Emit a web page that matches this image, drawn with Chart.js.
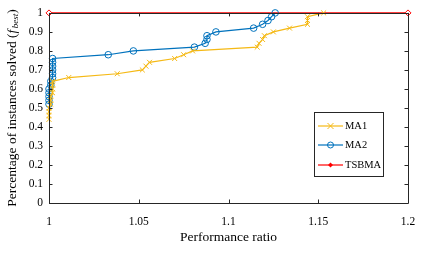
<!DOCTYPE html>
<html><head><meta charset="utf-8">
<script src="https://cdn.jsdelivr.net/npm/chart.js@4"></script>
<style>html,body{margin:0;padding:0;background:#fff}#wrap{width:429px;height:265px}</style>
</head><body><div id="wrap"><canvas id="c" width="429" height="265"></canvas></div>
<script>
const ma1Ratio = [1,1,1,1,1.001,1.001,1.001,1.002,1.002,1.002,1.002,1.011,1.038,1.052,1.054,1.056,1.070,1.075,1.080,1.116,1.117,1.119,1.120,1.125,1.134,1.144,1.144,1.144,1.153];
const ma1Solved = [0.44,0.46,0.48,0.50,0.52,0.54,0.56,0.58,0.60,0.62,0.64,0.66,0.68,0.70,0.72,0.74,0.76,0.78,0.80,0.82,0.84,0.86,0.88,0.90,0.92,0.94,0.96,0.98,1.0];
const ma2Ratio = [1,1,1,1,1,1.001,1.001,1.002,1.002,1.002,1.002,1.002,1.002,1.033,1.047,1.081,1.087,1.088,1.088,1.093,1.114,1.119,1.122,1.124,1.126];
const ma2Solved = [0.52,0.54,0.56,0.58,0.60,0.62,0.64,0.66,0.68,0.70,0.72,0.74,0.76,0.78,0.80,0.82,0.84,0.86,0.88,0.90,0.92,0.94,0.96,0.98,1.0];
const tsbmaRatio = [1,1.2];
const tsbmaSolved = [1,1];
const xTicks = [1,1.05,1.1,1.15,1.2];
const yTicks = [0,0.1,0.2,0.3,0.4,0.5,0.6,0.7,0.8,0.9,1];
const seriesNames = ['MA1','MA2','TSBMA'];

const C1 = '#F5B915', C2 = '#0072BD', C3 = '#FF0000', AX = '#262626';
const FONT = 'Liberation Serif';
Chart.defaults.font.family = FONT;
Chart.defaults.font.size = 11.5;
Chart.defaults.color = '#000';

const pts = (xs, ys) => xs.map((x,i)=>({x:x,y:ys[i]}));

const deco = {
  id:'deco',
  afterDraw(chart){
    const ctx = chart.ctx, a = chart.chartArea, xs = chart.scales.x, ys = chart.scales.y;
    ctx.save();
    ctx.strokeStyle = AX; ctx.lineWidth = 1;
    ctx.beginPath();
    ctx.rect(Math.round(a.left)+0.5, Math.round(a.top)+0.5, Math.round(a.right-a.left), Math.round(a.bottom-a.top));
    ctx.stroke();
    ctx.beginPath();
    xTicks.forEach(v=>{const p=Math.round(xs.getPixelForValue(v))+0.5;
      ctx.moveTo(p,a.bottom); ctx.lineTo(p,a.bottom-3.5);
      ctx.moveTo(p,a.top); ctx.lineTo(p,a.top+3.5);});
    yTicks.forEach(v=>{const p=Math.round(ys.getPixelForValue(v))+0.5;
      ctx.moveTo(a.left,p); ctx.lineTo(a.left+3.5,p);
      ctx.moveTo(a.right,p); ctx.lineTo(a.right-3.5,p);});
    ctx.stroke();
    ctx.fillStyle='#000';
    ctx.font = '13.5px '+FONT; ctx.textAlign='center'; ctx.textBaseline='middle';
    ctx.fillText('Performance ratio', (a.left+a.right)/2, 237);
    ctx.save();
    ctx.translate(12, (a.top+a.bottom)/2);
    ctx.rotate(-Math.PI/2);
    const p1='Percentage of instances solved (', p2='f', p3='best', p4=')';
    ctx.font='13.5px '+FONT; const w1=ctx.measureText(p1).width, w4=ctx.measureText(p4).width;
    ctx.font='italic 13.5px '+FONT; const w2=ctx.measureText(p2).width+1.5;
    ctx.font='italic 9px '+FONT; const w3=ctx.measureText(p3).width;
    let x0=-(w1+w2+w3+w4)/2;
    ctx.textAlign='left'; ctx.textBaseline='middle';
    ctx.font='13.5px '+FONT; ctx.fillText(p1,x0,0); x0+=w1;
    ctx.font='italic 13.5px '+FONT; ctx.fillText(p2,x0,0); x0+=w2;
    ctx.font='italic 9px '+FONT; ctx.fillText(p3,x0,3.5); x0+=w3;
    ctx.font='13.5px '+FONT; ctx.fillText(p4,x0,0);
    ctx.restore();
    const L=314.5,T=112.5,R=383.5,B=176.5;
    ctx.fillStyle='#fff'; ctx.fillRect(L,T,R-L,B-T);
    ctx.strokeStyle=AX; ctx.lineWidth=1; ctx.strokeRect(L,T,R-L,B-T);
    const rows=[126,145,165], cols=[C1,C2,C3];
    rows.forEach((yy,i)=>{
      ctx.strokeStyle=cols[i]; ctx.lineWidth=1.2;
      ctx.beginPath(); ctx.moveTo(318,yy); ctx.lineTo(343,yy); ctx.stroke();
      ctx.lineWidth=1;
      const cx=330.5;
      if(i===0){ctx.beginPath();ctx.moveTo(cx-3,yy-3);ctx.lineTo(cx+3,yy+3);ctx.moveTo(cx-3,yy+3);ctx.lineTo(cx+3,yy-3);ctx.stroke();}
      else if(i===1){ctx.beginPath();ctx.arc(cx,yy,3,0,Math.PI*2);ctx.stroke();}
      else {ctx.fillStyle=C3;ctx.beginPath();ctx.moveTo(cx,yy-2.5);ctx.lineTo(cx+2.5,yy);ctx.lineTo(cx,yy+2.5);ctx.lineTo(cx-2.5,yy);ctx.closePath();ctx.fill();}
      ctx.fillStyle='#000'; ctx.font='10.5px '+FONT; ctx.textAlign='left'; ctx.textBaseline='middle';
      ctx.fillText(seriesNames[i],345,yy+0.5);
    });
    ctx.restore();
  }
};

new Chart(document.getElementById('c'), {
  type:'scatter',
  data:{datasets:[
    {label:seriesNames[0], data:pts(ma1Ratio,ma1Solved), showLine:true, borderColor:C1, backgroundColor:C1, borderWidth:1.2,
     pointStyle:'crossRot', pointRadius:3.5, pointBorderWidth:1, pointBorderColor:C1, clip:false},
    {label:seriesNames[1], data:pts(ma2Ratio,ma2Solved), showLine:true, borderColor:C2, backgroundColor:'rgba(0,0,0,0)', borderWidth:1.2,
     pointStyle:'circle', pointRadius:3.3, pointBorderWidth:1, pointBorderColor:C2, clip:false},
    {label:seriesNames[2], data:pts(tsbmaRatio,tsbmaSolved), showLine:true, borderColor:C3, backgroundColor:'#fff', borderWidth:1.2,
     pointStyle:'rectRot', pointRadius:3, pointBorderWidth:1, pointBorderColor:C3, clip:false}
  ]},
  options:{
    responsive:false, animation:false, devicePixelRatio:1,
    layout:{padding:{top:10,right:21,left:0,bottom:0}},
    plugins:{legend:{display:false}, tooltip:{enabled:false}},
    scales:{
      x:{type:'linear', min:1, max:1.2,
         afterBuildTicks:s=>{s.ticks=xTicks.map(v=>({value:v}));},
         afterFit:s=>{s.height=62;},
         ticks:{padding:12, maxRotation:0, autoSkip:false, callback:v=>String(v)},
         grid:{display:false, drawTicks:false}, border:{display:false}},
      y:{type:'linear', min:0, max:1,
         afterBuildTicks:s=>{s.ticks=yTicks.map(v=>({value:v}));},
         afterFit:s=>{s.width=49;},
         ticks:{padding:6, autoSkip:false, callback:v=>String(v)},
         grid:{display:false, drawTicks:false}, border:{display:false}}
    }
  },
  plugins:[deco]
});
</script>
</body></html>
